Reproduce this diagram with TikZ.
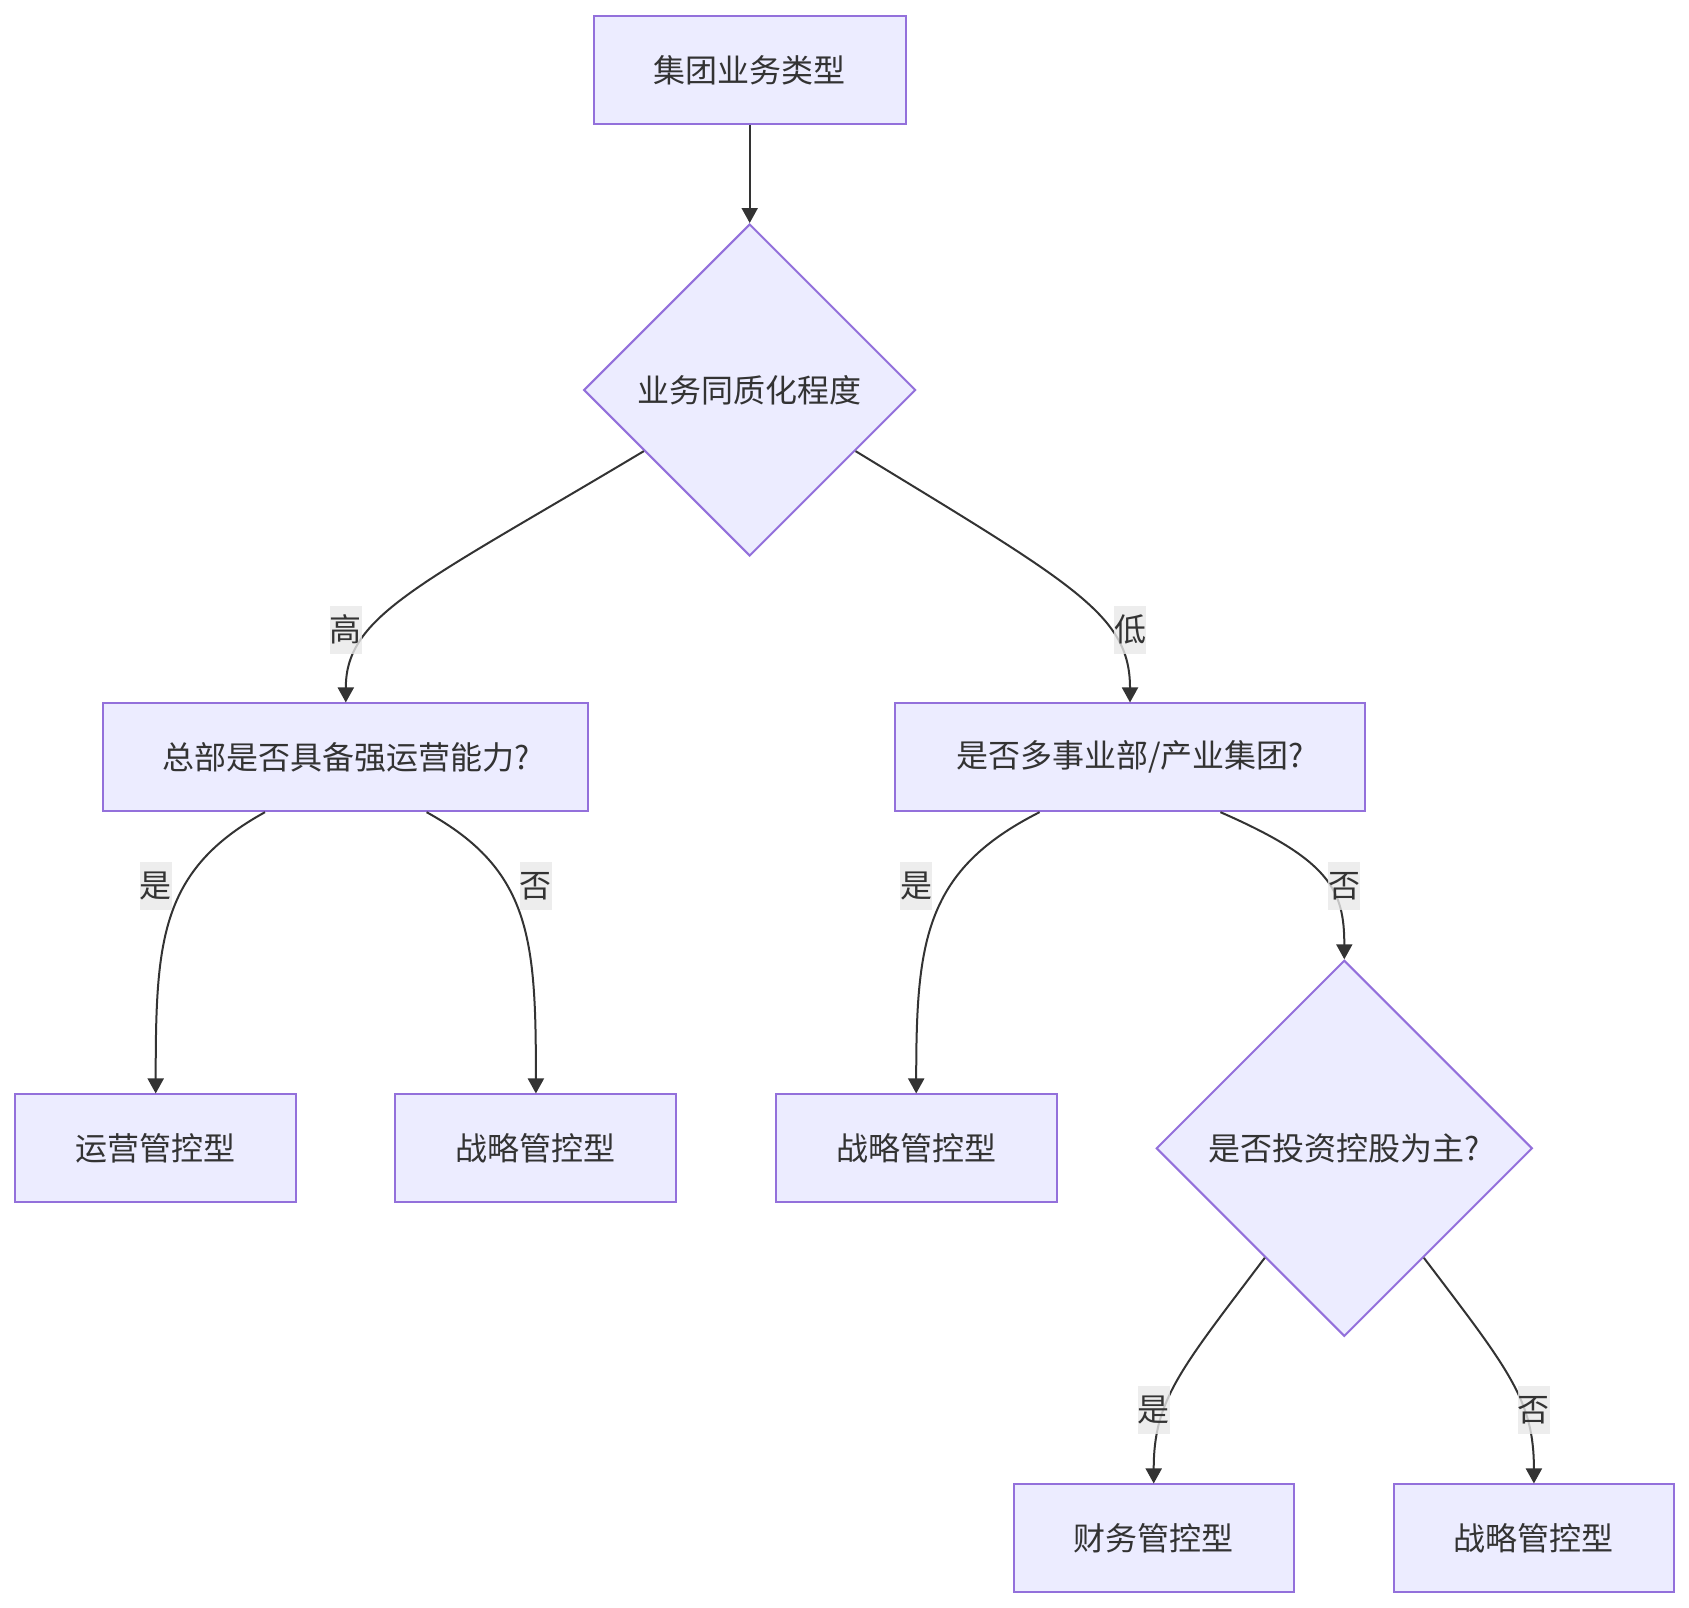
\documentclass[tikz,border=0pt]{standalone}
\usepackage{fontspec}
\newfontfamily\cjk{Noto Sans CJK SC}
\usepackage{xcolor}
\usetikzlibrary{shapes.geometric,arrows.meta}
\definecolor{boxfill}{HTML}{ECECFF}
\definecolor{boxline}{HTML}{9370DB}
\definecolor{ink}{HTML}{333333}
\definecolor{lblfill}{HTML}{E8E8E8}

\begin{document}
\begin{tikzpicture}[x=0.5pt,y=-0.5pt,
  every node/.style={font=\cjk\fontsize{16pt}{20pt}\selectfont,text=ink},
  box/.style={draw=boxline,fill=boxfill,line width=1pt,minimum height=53.85pt,inner sep=0pt},
  choice/.style={diamond,aspect=1,draw=boxline,fill=boxfill,line width=1pt,inner sep=0pt},
  lbl/.style={fill=lblfill,fill opacity=0.8,text opacity=1,inner xsep=0pt,inner ysep=0pt,minimum height=24pt},
  arr/.style={draw=ink,line width=1pt,-{Triangle[length=7.5pt,width=8pt]}}]
  \useasboundingbox (0,0) rectangle (1689,1607);
  % boxes and decisions
  \node[box,minimum width=156.2pt] (type) at (749.7,70) {集团业务类型};
  \node[choice,minimum width=166pt,minimum height=166pt] (homog) at (749.7,390) {业务同质化程度};
  \node[box,minimum width=242.4pt] (hq) at (345.8,757.3) {总部是否具备强运营能力?};
  \node[box,minimum width=234.8pt] (multi) at (1130,757.3) {是否多事业部/产业集团?};
  \node[box,minimum width=140.5pt] (ops) at (155.7,1148.3) {运营管控型};
  \node[box,minimum width=140.5pt] (strata) at (535.9,1148.3) {战略管控型};
  \node[box,minimum width=140.5pt] (stratb) at (916.2,1148.3) {战略管控型};
  \node[choice,minimum width=188pt,minimum height=188pt] (invest) at (1344.3,1148.3) {是否投资控股为主?};
  \node[box,minimum width=140pt] (fin) at (1153.7,1538.3) {财务管控型};
  \node[box,minimum width=140pt] (stratc) at (1533.9,1538.3) {战略管控型};
  % connectors
  \draw[arr] (type) -- (homog);
  \draw[arr] (homog.210) .. controls (420,585) and (345.8,615) .. (hq.north);
  \draw[arr] (homog.330) .. controls (1075,585) and (1130,615) .. (multi.north);
  \draw[arr] ([xshift=-40.4pt]hq.south) .. controls (160,870) and (155.7,940) .. (ops.north);
  \draw[arr] ([xshift=40.4pt]hq.south) .. controls (531.6,870) and (535.9,940) .. (strata.north);
  \draw[arr] ([xshift=-45.2pt]multi.south) .. controls (925,870) and (916.2,940) .. (stratb.north);
  \draw[arr] ([xshift=45.2pt]multi.south) .. controls (1330,860) and (1344.3,890) .. (invest.north);
  \draw[arr] (invest.234) .. controls (1180,1370) and (1153.7,1400) .. (fin.north);
  \draw[arr] (invest.306) .. controls (1509,1370) and (1533.9,1400) .. (stratc.north);
  % edge labels
  \foreach \n/\t/\x/\y in {high/高/345.8/629.5, low/低/1130/629.5,
      yesa/是/155.7/886, noa/否/535.9/886, yesb/是/916.2/886, nob/否/1344.3/886,
      yesc/是/1153.7/1410, noc/否/1533.9/1410}
    \node[lbl] (\n) at (\x,\y) {\t};
\end{tikzpicture}
\end{document}
